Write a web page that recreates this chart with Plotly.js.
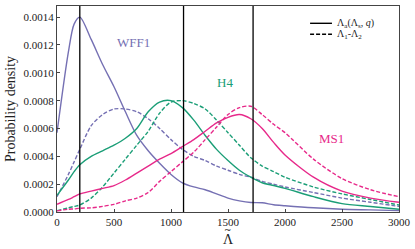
<!DOCTYPE html>
<html>
<head>
<meta charset="utf-8">
<script src="https://cdn.plot.ly/plotly-3.0.1.min.js"></script>
<style>html,body{margin:0;padding:0;background:#fff;}#chart{width:415px;height:249px;}</style>
</head>
<body>
<div id="chart"></div>
<script>
// Lambda-tilde grid
var lambdaGrid = [0,100,150,200,300,400,500,600,700,800,900,1000,1100,1200,1300,1400,1500,1600,1700,1800,1900,2000,2250,2500,2750,3000];

// WFF1
var wff1Solid  = [0.00057,0.00115,0.00135,0.00140,0.00124,0.00106,0.00090,0.00072,0.00055,0.00044,0.00035,0.00027,0.00021,0.00018,0.00016,0.00013,0.00010,0.000080,0.000068,0.000066,0.000052,0.000045,0.000030,0.000020,0.000015,0.000010];
var wff1Dashed = [0.00011,0.00027,0.00036,0.00045,0.00062,0.00070,0.00074,0.00074,0.00072,0.00067,0.00060,0.00052,0.00045,0.00040,0.00037,0.00033,0.00030,0.00027,0.00025,0.00022,0.00020,0.00018,0.00014,0.00010,0.00007,0.00004];
// H4
var h4Solid    = [0.00012,0.00023,0.00029,0.00034,0.00040,0.00044,0.00048,0.00053,0.00060,0.00072,0.00079,0.00080,0.00075,0.00066,0.00055,0.00045,0.00037,0.00030,0.00025,0.00021,0.00019,0.00017,0.00011,0.00006,0.00004,0.00002];
var h4Dashed   = [0.00001,0.00003,0.00004,0.00005,0.00010,0.00018,0.00028,0.00038,0.00048,0.00058,0.00071,0.00079,0.00080,0.00078,0.00074,0.00066,0.00057,0.00048,0.00039,0.00033,0.00029,0.00025,0.00018,0.00013,0.00009,0.00005];
// MS1
var ms1Solid   = [0.000055,0.00009,0.00011,0.00013,0.00015,0.00017,0.00019,0.00023,0.00028,0.00033,0.00038,0.00042,0.00047,0.00052,0.00058,0.00064,0.00068,0.00070,0.00067,0.00060,0.00050,0.00041,0.00025,0.00015,0.00010,0.00007];
var ms1Dashed  = [0.000008,0.00002,0.000022,0.000027,0.00003,0.00004,0.000055,0.00008,0.00010,0.00014,0.00022,0.00029,0.00036,0.00043,0.00052,0.00061,0.00070,0.00075,0.00076,0.00070,0.00063,0.00057,0.00038,0.00024,0.00016,0.00011];

// Vertical reference lines
var refLines = [200, 1110, 1720];

// Labels
var eosNames = ['WFF1','H4','MS1'];
var eosLabelX = [670, 1471, 2409];
var eosLabelY = [0.00122, 0.00093, 0.00053];
var legendNames = ['Λ<sub>a</sub>(Λ<sub>s</sub>, <i>q</i>)', 'Λ<sub>1</sub>-Λ<sub>2</sub>'];

var colors = ['#7570b3', '#1b9e77', '#e7298a'];
var solids = [wff1Solid, h4Solid, ms1Solid];
var dashes = [wff1Dashed, h4Dashed, ms1Dashed];
var DASH = '4px,2px';

var FONT = 'Liberation Serif, DejaVu Serif, serif';
var traces = [];
for (var i = 0; i < 3; i++) {
  traces.push({x: lambdaGrid, y: solids[i], mode: 'lines', name: eosNames[i], showlegend: false,
    line: {color: colors[i], width: 1.4, shape: 'spline', smoothing: 0.8}, hoverinfo: 'skip'});
  traces.push({x: lambdaGrid, y: dashes[i], mode: 'lines', name: eosNames[i] + ' dashed', showlegend: false,
    line: {color: colors[i], width: 1.4, dash: DASH, shape: 'spline', smoothing: 0.8}, hoverinfo: 'skip'});
}

var shapes = refLines.map(function (v) {
  return {type: 'line', xref: 'x', yref: 'paper', x0: v, x1: v, y0: 0, y1: 1,
          line: {color: '#000', width: 1.3}};
});
// hand-drawn legend keys (paper coordinates)
var legX0 = 0.740, legX1 = 0.804, legTextX = 0.813;
var legY = [0.916, 0.863];
var legDash = ['solid', DASH];
for (var k = 0; k < 2; k++) {
  shapes.push({type: 'line', xref: 'paper', yref: 'paper', x0: legX0, x1: legX1, y0: legY[k], y1: legY[k],
               line: {color: '#000', width: 1.4, dash: legDash[k]}});
}

var annotations = eosNames.map(function (n, i) {
  return {x: eosLabelX[i], y: eosLabelY[i], xref: 'x', yref: 'y', text: n, showarrow: false,
          font: {family: FONT, size: 13, color: colors[i]}};
});
for (var k2 = 0; k2 < 2; k2++) {
  annotations.push({x: legTextX, y: legY[k2], xref: 'paper', yref: 'paper', xanchor: 'left', yanchor: 'middle',
                    text: legendNames[k2], showarrow: false, font: {family: FONT, size: 10, color: '#222'}});
}
// tilde accent over the x-axis symbol
annotations.push({x: 0.5, y: -0.087, xref: 'paper', yref: 'paper', xanchor: 'center', yanchor: 'middle',
                  text: '~', showarrow: false, font: {family: 'DejaVu Sans, sans-serif', size: 9, color: '#222'}});

var layout = {
  width: 415, height: 249,
  margin: {l: 57, r: 16, t: 6, b: 37},
  paper_bgcolor: '#fff', plot_bgcolor: '#fff',
  font: {family: FONT, size: 11, color: '#222'},
  showlegend: false,
  xaxis: {range: [0, 3000], tickvals: [0,500,1000,1500,2000,2500,3000], ticks: 'inside', ticklen: 3,
          showgrid: false, zeroline: false, showline: true, mirror: true, linecolor: '#444', linewidth: 1,
          tickfont: {family: FONT, size: 11, color: '#222'},
          title: {text: 'Λ', font: {family: FONT, size: 14, color: '#222'}, standoff: 6}},
  yaxis: {range: [0, 0.00148], dtick: 0.0002, tickformat: '.4f', ticks: 'inside', ticklen: 3,
          showgrid: false, zeroline: false, showline: true, mirror: true, linecolor: '#444', linewidth: 1,
          tickfont: {family: FONT, size: 11, color: '#222'},
          title: {text: 'Probability density', font: {family: FONT, size: 14, color: '#222'}, standoff: 4}},
  shapes: shapes,
  annotations: annotations
};

Plotly.newPlot('chart', traces, layout, {staticPlot: true, displayModeBar: false});
</script>
</body>
</html>
